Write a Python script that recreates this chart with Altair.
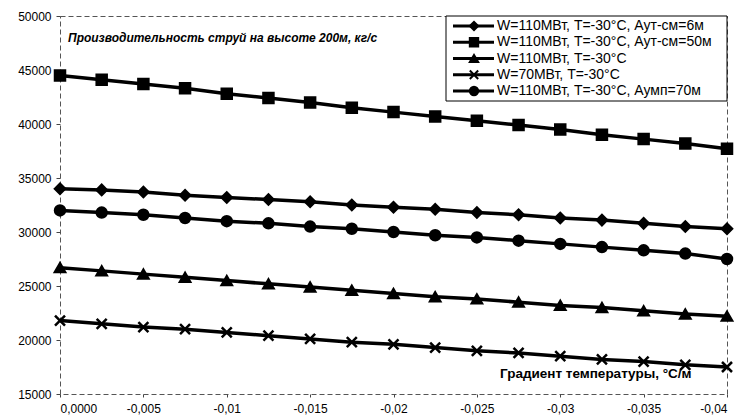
import altair as alt
import pandas as pd

# ---- data ----
x_vals = [0.0, -0.0025, -0.005, -0.0075, -0.01, -0.0125, -0.015, -0.0175, -0.02,
          -0.0225, -0.025, -0.0275, -0.03, -0.0325, -0.035, -0.0375, -0.04]

series_names = [
    "W=110МВт, Т=-30°С, Аут-см=6м",
    "W=110МВт, Т=-30°С, Аут-см=50м",
    "W=110МВт, Т=-30°С",
    "W=70МВт, Т=-30°С",
    "W=110МВт, Т=-30°С, Аумп=70м",
]

s_6m = [34000, 33900, 33700, 33400, 33200, 33000, 32800, 32500, 32300,
        32100, 31800, 31600, 31300, 31100, 30800, 30500, 30300]
s_50m = [44500, 44100, 43700, 43300, 42800, 42400, 42000, 41500, 41100,
         40700, 40300, 39900, 39500, 39000, 38600, 38200, 37700]
s_110 = [26700, 26400, 26100, 25800, 25500, 25200, 24900, 24600, 24300,
         24000, 23800, 23500, 23200, 23000, 22700, 22400, 22200]
s_70 = [21800, 21500, 21200, 21000, 20700, 20400, 20100, 19800, 19600,
        19300, 19000, 18800, 18500, 18200, 18000, 17700, 17500]
s_70m = [32000, 31800, 31600, 31300, 31000, 30800, 30500, 30300, 30000,
         29700, 29500, 29200, 28900, 28600, 28300, 28000, 27500]

x_ticks = [0, -0.005, -0.01, -0.015, -0.02, -0.025, -0.03, -0.035, -0.04]
x_tick_labels = ["0,0000", "-0,005", "-0,01", "-0,015", "-0,02", "-0,025",
                 "-0,03", "-0,035", "-0,04"]
y_ticks = [15000, 20000, 25000, 30000, 35000, 40000, 45000, 50000]

title_text = "Производительность струй на высоте 200м, кг/с"
x_title_text = "Градиент температуры, °С/м"

shape_range = ["diamond", "square", "triangle-up", "M-1,-1L1,1M-1,1L1,-1", "circle"]

# ---- build table ----
all_series = [s_6m, s_50m, s_110, s_70, s_70m]
rows = []
for name, vals in zip(series_names, all_series):
    for xv, yv in zip(x_vals, vals):
        rows.append({"x": xv, "y": yv, "series": name})
df = pd.DataFrame(rows)

FONT = "Liberation Sans"

label_expr = " : ".join(
    f"abs(datum.value - ({v})) < 1e-9 ? '{l}'" for v, l in zip(x_ticks, x_tick_labels)
) + " : ''"

x_enc = alt.X("x:Q",
              scale=alt.Scale(domain=[-0.04, 0], reverse=True, nice=False, zero=False),
              axis=alt.Axis(values=x_ticks, labelExpr=label_expr, title=None,
                            domain=False, grid=False, ticks=True, tickSize=3,
                            labelFontSize=12, labelFont=FONT, labelColor="black",
                            labelPadding=6, tickColor="#444"))
y_enc = alt.Y("y:Q",
              scale=alt.Scale(domain=[15000, 50000], nice=False, zero=False),
              axis=alt.Axis(values=y_ticks, format="d", title=None, domain=False,
                            grid=False, tickSize=4, labelFontSize=12, labelFont=FONT,
                            labelColor="black", labelPadding=5, tickColor="#444"))

shape_scale = alt.Scale(domain=series_names, range=shape_range)

title_mark = alt.Chart(pd.DataFrame({"t": [title_text]})).mark_text(
    align="left", baseline="middle", fontSize=12, font=FONT, fontWeight="bold",
    fontStyle="italic", color="black").encode(
    x=alt.value(8), y=alt.value(22), text="t:N")
xtitle_mark = alt.Chart(pd.DataFrame({"t": [x_title_text]})).mark_text(
    align="left", baseline="middle", fontSize=13.5, font=FONT, fontWeight="bold",
    color="black").encode(
    x=alt.value(440), y=alt.value(358), text="t:N")

base = alt.Chart(df).encode(x=x_enc, y=y_enc, detail="series:N")
lines = base.mark_line(color="black", strokeWidth=3.5)
points = base.mark_point(filled=True, fill="black", stroke="black", strokeWidth=2.5,
                         size=100, opacity=1).encode(
    shape=alt.Shape("series:N", scale=shape_scale, legend=None))
main = alt.layer(lines, points)

# ---- custom legend ----
leg_df = pd.DataFrame({"series": series_names, "idx": list(range(len(series_names)))})
leg_y = alt.Y("idx:Q", scale=alt.Scale(domain=[0, 4], range=[10, 75]), axis=None)

leg_box = alt.Chart(pd.DataFrame({"a": [0]})).mark_rect(
    fill="white", stroke="black", strokeWidth=1).encode(
    x=alt.value(386), x2=alt.value(667), y=alt.value(0), y2=alt.value(85))
leg_rule = alt.Chart(leg_df).mark_rule(color="black", strokeWidth=3).encode(
    x=alt.value(393), x2=alt.value(434), y=leg_y)
leg_pts = alt.Chart(leg_df).mark_point(filled=True, fill="black", stroke="black",
                                       strokeWidth=2, size=70, opacity=1).encode(
    x=alt.value(414), y=leg_y,
    shape=alt.Shape("series:N", scale=shape_scale, legend=None))
leg_txt = alt.Chart(leg_df).mark_text(align="left", baseline="middle", fontSize=14,
                                      font=FONT, color="black").encode(
    x=alt.value(437), y=leg_y, text="series:N")
legend = alt.layer(leg_rule, leg_pts, leg_txt)

chart = alt.layer(title_mark, xtitle_mark, main, leg_box, legend).resolve_scale(
    y="independent").properties(
    width=667, height=378,
    autosize=alt.AutoSizeParams(type="none"),
    padding={"left": 52, "top": 8, "right": 8, "bottom": 25},
    background="white",
).configure_view(stroke="#555", strokeDash=[5, 3], strokeWidth=1)

chart.save("out.html", embed_options={"renderer": "svg", "actions": False})
